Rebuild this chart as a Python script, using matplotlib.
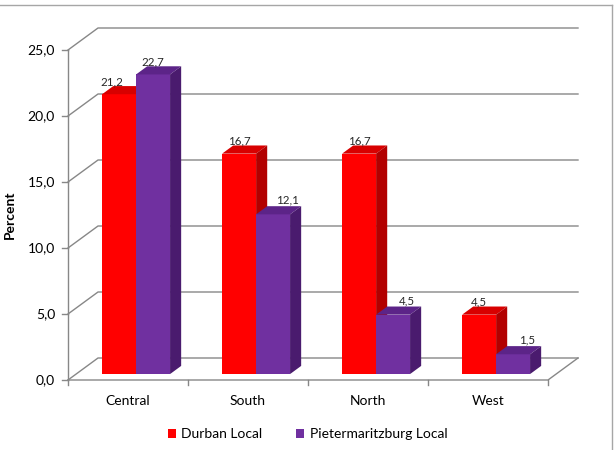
import matplotlib.pyplot as plt
from matplotlib.patches import Polygon, Patch
from matplotlib.lines import Line2D

categories = ['Central', 'South', 'North', 'West']
durban = [21.2, 16.7, 16.7, 4.5]
pmb = [22.7, 12.1, 4.5, 1.5]
series = ['Durban Local', 'Pietermaritzburg Local']
yticks = [0, 5, 10, 15, 20, 25]

plt.rcParams['font.family'] = ['Lato', 'DejaVu Sans']

fig = plt.figure(figsize=(6.15, 4.5), dpi=100)
ax = fig.add_axes([0, 0, 1, 1])
# one category = 120 px, one percent = 13.2 px, front-left corner at (68, 380)
ax.set_xlim(-68 / 120, (615 - 68) / 120)
ax.set_ylim(-(450 - 380) / 13.2, 380 / 13.2)
ax.axis('off')

DX, DY = 0.25, 22 / 13.2   # full depth of the box
grid = '#878787'


def proj(x, y, d):
    return (x + d * DX, y + d * DY)


n = len(categories)
# walls and gridlines
for t in yticks:
    ax.plot(*zip(proj(0, t, 0), proj(0, t, 1), proj(n, t, 1)), color=grid, lw=1, zorder=1)
    ax.plot([-6 / 120, 0], [t, t], color=grid, lw=1, zorder=1)
    ax.text(-13 / 120, t, f'{t:.1f}'.replace('.', ','), ha='right', va='center', fontsize=10)
ax.plot([0, 0], [0, yticks[-1]], color=grid, lw=1, zorder=1)
ax.plot(*zip(proj(0, 0, 0), proj(n, 0, 0), proj(n, 0, 1)), color=grid, lw=1, zorder=1)
for i in range(n + 1):
    ax.plot([i, i], [0, -5 / 13.2], color=grid, lw=1, zorder=1)
for i, c in enumerate(categories):
    ax.text(i + 0.5, -1.6, c, ha='center', va='center', fontsize=10)

# bars
d0, d1 = 0.27, 0.64
w = 0.283
styles = [('#FF0000', '#D80000', '#B20000'), ('#7030A0', '#5C2488', '#4A1B6E')]
for i in range(n):
    for j, vals in enumerate([durban, pmb]):
        v = vals[i]
        front, top, side = styles[j]
        x0 = i + 0.5 - w + j * w
        x1 = x0 + w
        ax.add_patch(Polygon([proj(x0, 0, d0), proj(x1, 0, d0), proj(x1, v, d0), proj(x0, v, d0)],
                             closed=True, fc=front, ec='none', zorder=3))
        ax.add_patch(Polygon([proj(x0, v, d0), proj(x1, v, d0), proj(x1, v, d1), proj(x0, v, d1)],
                             closed=True, fc=top, ec='none', zorder=3))
        ax.add_patch(Polygon([proj(x1, 0, d0), proj(x1, 0, d1), proj(x1, v, d1), proj(x1, v, d0)],
                             closed=True, fc=side, ec='none', zorder=3))
        lx, ly = proj(x0 + w / 2, v, d0)
        dy = 0.95
        if j == 1 and v < durban[i]:
            # label drifts right, off the taller neighbour's side
            lx += 14 / 120
            dy = 1.06
        elif j == 0 and v < pmb[i]:
            lx -= 7 / 120
        ax.text(lx, ly + dy, f'{v:.1f}'.replace('.', ','), ha='center', va='center',
                fontsize=8.3, color='#262626', zorder=4)

ax.text(-58 / 120, 12.5, 'Percent', rotation=90, ha='center', va='center',
        fontsize=10, fontweight='bold')

handles = [Patch(fc=styles[0][0]), Patch(fc=styles[1][0])]
fig.legend(handles, series, loc='center', bbox_to_anchor=(0.5, 1 - 434 / 450), ncol=2,
           frameon=False, fontsize=10, handlelength=0.6, handleheight=0.6,
           handletextpad=0.4, columnspacing=2.4)

# chart border
fig.add_artist(Line2D([0, 612 / 615], [1 - 5 / 450] * 2, transform=fig.transFigure, color='#A6A6A6', lw=1))
fig.add_artist(Line2D([612 / 615] * 2, [0, 1 - 5 / 450], transform=fig.transFigure, color='#A6A6A6', lw=1))

fig.savefig('out.png', dpi=100)
